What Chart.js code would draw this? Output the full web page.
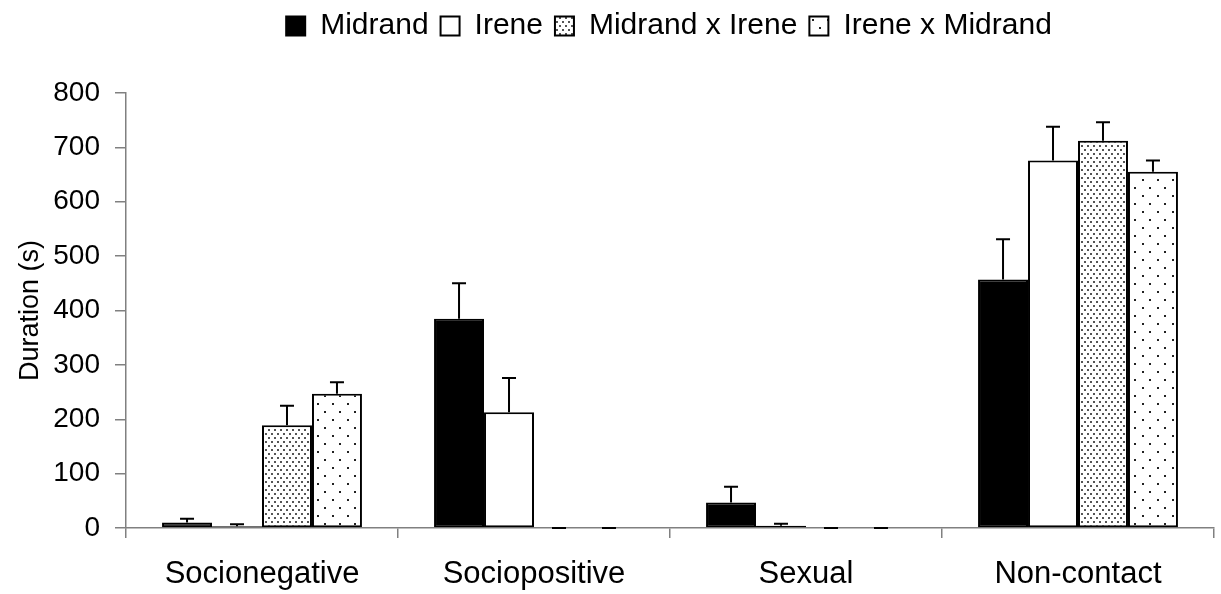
<!DOCTYPE html>
<html>
<head>
<meta charset="utf-8">
<script src="https://cdn.jsdelivr.net/npm/chart.js@4/dist/chart.umd.min.js"></script>
<style>
  html, body { margin:0; padding:0; background:#fff; }
  #wrap { width:1221px; height:594px; }
</style>
</head>
<body>
<div id="wrap"><canvas id="chart" width="1221" height="594"></canvas></div>
<script>
/* ---------- data ---------- */
const categories = ["Socionegative", "Sociopositive", "Sexual", "Non-contact"];
const seriesNames = ["Midrand", "Irene", "Midrand x Irene", "Irene x Midrand"];

const midrand      = [10, 385, 47, 457];
const irene        = [3, 213, 4, 676];
const midrandIrene = [189, 0, 0, 712];
const ireneMidrand = [247, 0, 0, 655];

// upper error (SE) for each bar
const midrandErr      = [7, 65, 29, 74];
const ireneErr        = [4, 63, 4, 62];
const midrandIreneErr = [36, 0, 0, 34];
const ireneMidrandErr = [21, 0, 0, 21];

const yTicks = [0, 100, 200, 300, 400, 500, 600, 700, 800];

const FONT = "'Liberation Sans', Arial, sans-serif";
const AXIS_GREY = "#808080";

/* ---------- dot patterns ---------- */
function dotPattern(w, h, dots, color){
  const c = document.createElement("canvas");
  c.width = w; c.height = h;
  const g = c.getContext("2d");
  g.fillStyle = "#fff"; g.fillRect(0, 0, w, h);
  g.fillStyle = color;
  dots.forEach(d => g.fillRect(d[0], d[1], 2, 2));
  return document.getElementById("chart").getContext("2d").createPattern(c, "repeat");
}
const densePattern  = dotPattern(6, 8, [[1,1],[4,5]], "#555");
const sparsePattern = dotPattern(15, 16, [[2,3],[9,11]], "#222");

/* ---------- error bars (drawn from the y scale) ---------- */
const errorSets = [midrandErr, ireneErr, midrandIreneErr, ireneMidrandErr];
const errorBars = {
  id: "errorBars",
  afterDatasetsDraw(chart){
    const ctx = chart.ctx;
    const y = chart.scales.y;
    ctx.save();
    ctx.strokeStyle = "#000";
    ctx.lineWidth = 2;
    chart.data.datasets.forEach((ds, di) => {
      const meta = chart.getDatasetMeta(di);
      meta.data.forEach((bar, i) => {
        const top = y.getPixelForValue(ds.data[i] + errorSets[di][i]);
        ctx.beginPath();
        ctx.moveTo(bar.x, bar.y);
        ctx.lineTo(bar.x, top);
        ctx.moveTo(bar.x - 7, top);
        ctx.lineTo(bar.x + 7, top);
        ctx.stroke();
      });
    });
    ctx.restore();
  }
};

/* legend sits a bit right of centre and above the plot gap */
const legendShift = {
  id: "legendShift",
  afterLayout(chart){
    const lg = chart.legend;
    lg.left += 57; lg.right += 57;
    lg.top -= 42; lg.bottom -= 42;
  }
};

/* ---------- chart ---------- */
new Chart(document.getElementById("chart"), {
  type: "bar",
  data: {
    labels: categories,
    datasets: [
      { label: seriesNames[0], data: midrand,      backgroundColor: "#000", borderColor: "#000", borderWidth: 2 },
      { label: seriesNames[1], data: irene,        backgroundColor: "#fff", borderColor: "#000", borderWidth: 2 },
      { label: seriesNames[2], data: midrandIrene, backgroundColor: densePattern,  borderColor: "#000", borderWidth: 2 },
      { label: seriesNames[3], data: ireneMidrand, backgroundColor: sparsePattern, borderColor: "#000", borderWidth: 2 }
    ]
  },
  options: {
    responsive: false,
    animation: false,
    devicePixelRatio: 1,
    layout: { padding: { left: 10, right: 7, top: 41, bottom: 0 } },
    datasets: { bar: { categoryPercentage: 0.735, barPercentage: 1.0, borderSkipped: false } },
    plugins: {
      tooltip: { enabled: false },
      legend: {
        position: "top",
        labels: {
          color: "#000",
          font: { family: FONT, size: 30 },
          boxWidth: 19, boxHeight: 19,
          padding: 12
        }
      }
    },
    scales: {
      x: {
        offset: true,
        grid: { offset: true, drawOnChartArea: false, drawTicks: true, tickLength: 10, color: AXIS_GREY, lineWidth: 1.5 },
        border: { color: AXIS_GREY, width: 1.5 },
        ticks: { color: "#000", font: { family: FONT, size: 31 }, padding: 18, maxRotation: 0 },
        afterFit(s){ s.height = 66; }
      },
      y: {
        min: 0, max: 800,
        afterBuildTicks(s){ s.ticks = yTicks.map(v => ({ value: v })); },
        grid: { drawOnChartArea: false, drawTicks: true, tickLength: 11, color: AXIS_GREY, lineWidth: 1.5 },
        border: { color: AXIS_GREY, width: 1.5 },
        ticks: { color: "#000", font: { family: FONT, size: 28 }, padding: 15 },
        title: { display: true, text: "Duration (s)", color: "#000", font: { family: FONT, size: 27 }, padding: { top: 4, bottom: 0 } },
        afterFit(s){ s.width = 116; }
      }
    }
  },
  plugins: [errorBars, legendShift]
});
</script>
</body>
</html>
